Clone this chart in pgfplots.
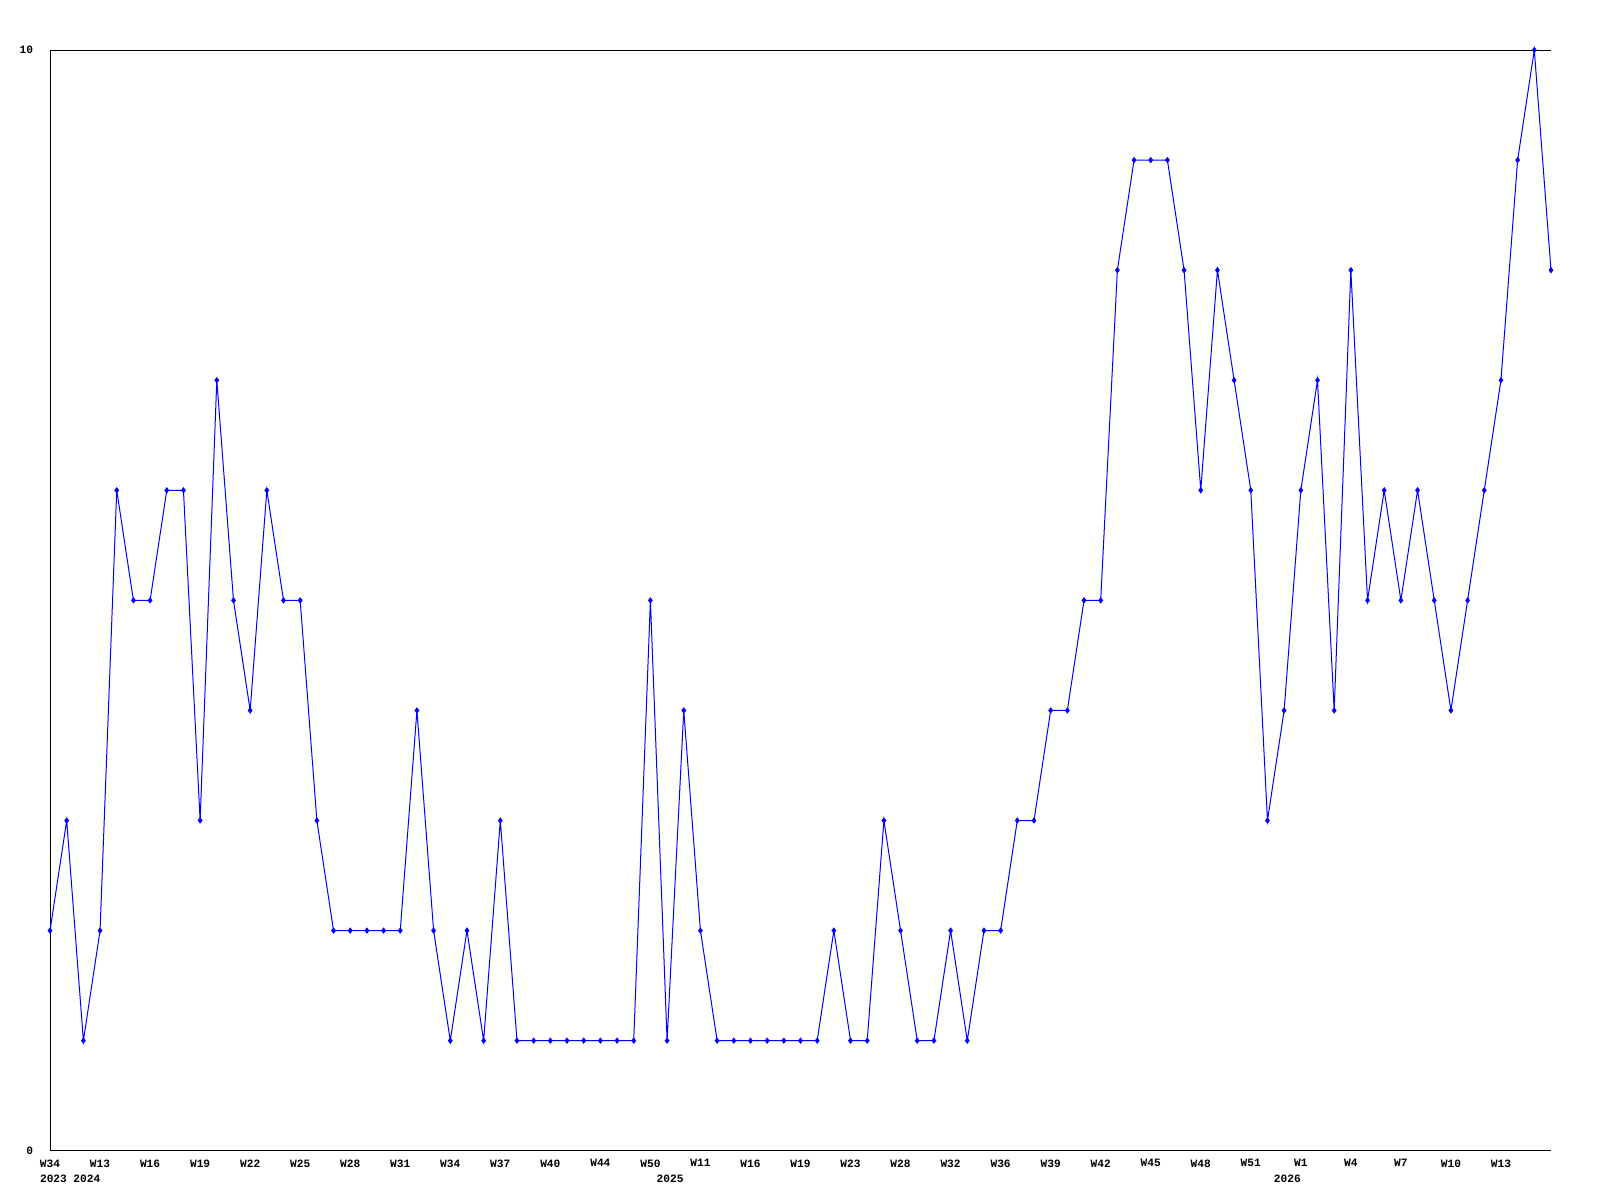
\documentclass[border=0pt]{standalone}
\usepackage{fontspec}
\setmainfont{Liberation Mono}
\usepackage{pgfplots}
\pgfplotsset{compat=1.18}
\newcommand{\lblfont}{\fontsize{5.6}{6.6}\selectfont\bfseries}
\begin{document}
\begin{tikzpicture}
\begin{axis}[
  scale only axis, width=750pt, height=550pt,
  xmin=0, xmax=90, ymin=0, ymax=10,
  axis x line*=box, axis y line*=left,
  axis line style={black, line width=0.5pt},
  major tick length=0pt,
  xtick={0,3,...,87},
  xticklabels={W34,W13,W16,W19,W22,W25,W28,W31,W34,W37,W40,W44,W50,W11,W16,W19,W23,W28,W32,W36,W39,W42,W45,W48,W51,W1,W4,W7,W10,W13},
  ytick={0,10},
  /pgf/number format/assume math mode=true,
  tick label style={font=\lblfont},
  xticklabel style={anchor=north, inner sep=0pt, yshift=-4.2pt},
  yticklabel style={anchor=east, inner sep=0pt, xshift=-8.3pt},
  clip=false,
]
\addplot[color={rgb,255:red,0;green,0;blue,255}, line width=0.5pt, mark=diamond*, mark size=1.2pt,
  mark options={fill={rgb,255:red,0;green,0;blue,255}}] table {
x y
0 2
1 3
2 1
3 2
4 6
5 5
6 5
7 6
8 6
9 3
10 7
11 5
12 4
13 6
14 5
15 5
16 3
17 2
18 2
19 2
20 2
21 2
22 4
23 2
24 1
25 2
26 1
27 3
28 1
29 1
30 1
31 1
32 1
33 1
34 1
35 1
36 5
37 1
38 4
39 2
40 1
41 1
42 1
43 1
44 1
45 1
46 1
47 2
48 1
49 1
50 3
51 2
52 1
53 1
54 2
55 1
56 2
57 2
58 3
59 3
60 4
61 4
62 5
63 5
64 8
65 9
66 9
67 9
68 8
69 6
70 8
71 7
72 6
73 3
74 4
75 6
76 7
77 4
78 8
79 5
80 6
81 5
82 6
83 5
84 4
85 5
86 6
87 7
88 9
89 10
90 8
};
\node[anchor=north west, inner sep=0pt, font=\lblfont] at ([xshift=-5.2pt,yshift=-11.7pt]axis cs:0,0) {2023};
\node[anchor=north west, inner sep=0pt, font=\lblfont] at ([xshift=-5.2pt,yshift=-11.7pt]axis cs:2,0) {2024};
\node[anchor=north west, inner sep=0pt, font=\lblfont] at ([xshift=-5.4pt,yshift=-11.7pt]axis cs:37,0) {2025};
\node[anchor=north west, inner sep=0pt, font=\lblfont] at ([xshift=-5.3pt,yshift=-11.7pt]axis cs:74,0) {2026};
\end{axis}
\path ([shift={(-25pt,-24.5pt)}]current axis.south west) rectangle ([shift={(24.5pt,25pt)}]current axis.north east);
\end{tikzpicture}
\end{document}
